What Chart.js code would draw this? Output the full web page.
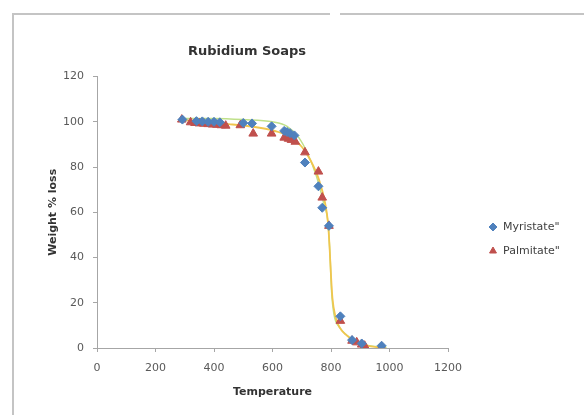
<!DOCTYPE html>
<html>
<head>
<meta charset="utf-8">
<script src="https://cdn.jsdelivr.net/npm/chart.js@4/dist/chart.umd.min.js"></script>
<style>
  body { margin: 0; background: #fff; }
  canvas { display: block; }
</style>
</head>
<body>
<canvas id="grafica" width="584" height="415"></canvas>
<script>
// Datos (temperatura, % de peso)
const tempMiristato = [292, 340, 360, 380, 400, 420, 500, 530, 597, 640, 650, 660, 675, 711, 757, 770, 793, 832, 872, 905, 973];
const pesoMiristato = [101, 100.3, 100.2, 100, 100, 99.8, 99.5, 99.3, 98, 96, 95.5, 95, 94, 82, 71.5, 62, 54, 14, 3.5, 2, 1];

const tempPalmitato = [290, 320, 335, 350, 365, 380, 395, 410, 425, 440, 490, 534, 597, 640, 655, 665, 678, 711, 757, 770, 793, 832, 872, 888, 905, 915, 973];
const pesoPalmitato = [101, 99.8, 99.5, 99.3, 99.2, 99, 98.8, 98.7, 98.5, 98.3, 98.5, 94.8, 94.8, 93, 92.5, 92, 91.2, 86.5, 78, 66.5, 54, 12, 3.2, 2.5, 1.5, 1, 0.5];

// lineas de tendencia (leidas a ojo)
const tempTendAmarilla = [290, 350, 450, 550, 620, 670, 700, 730, 760, 780, 790, 795, 800, 805, 815, 830, 850, 880, 920, 980];
const pesoTendAmarilla = [101, 100, 99, 97.5, 95.5, 92.5, 89, 83, 74, 64, 55, 45, 32, 22, 14, 9, 6, 3, 1.2, 0];
const tempTendVerde = [290, 400, 500, 600, 650, 690, 720, 750, 775, 790, 797, 802, 810, 830, 860, 900, 960, 990];
const pesoTendVerde = [101.5, 101.5, 101, 100, 98, 93, 86, 76, 64, 55, 40, 25, 15, 9, 5, 2, 0.5, 0.3];

const etiquetas = ['Myristate"', 'Palmitate"'];
const tituloGrafica = 'Rubidium Soaps';
const tituloX = 'Temperature';
const tituloY = 'Weight % loss';

const aPuntos = (xs, ys) => xs.map((x, i) => ({ x: x, y: ys[i] }));

const FUENTE = '"DejaVu Sans", sans-serif';

// marco gris de fondo
const marco = {
  id: 'marco',
  beforeDraw(chart) {
    const ctx = chart.ctx;
    ctx.save();
    ctx.fillStyle = '#fff';
    ctx.fillRect(0, 0, chart.width, chart.height);
    ctx.strokeStyle = '#c4c4c4';
    ctx.lineWidth = 2;
    ctx.beginPath();
    ctx.moveTo(13, chart.height);
    ctx.lineTo(13, 14);
    ctx.lineTo(330, 14);
    ctx.moveTo(340, 14);
    ctx.lineTo(chart.width, 14);
    ctx.stroke();
    ctx.restore();
  }
};

// leyenda a la derecha
const leyenda = {
  id: 'leyenda',
  afterDraw(chart) {
    const ctx = chart.ctx;
    ctx.save();
    const series = chart.data.datasets.filter(d => !d.tendencia);
    series.forEach((d, i) => {
      const y = 227 + i * 24;
      ctx.fillStyle = d.backgroundColor;
      ctx.strokeStyle = d.borderColor;
      ctx.lineWidth = 1;
      Chart.helpers.drawPoint(ctx, { pointStyle: d.pointStyle, radius: 4, rotation: 0, borderWidth: 1 }, 493, y);
      ctx.fillStyle = '#404040';
      ctx.font = '11px ' + FUENTE;
      ctx.textBaseline = 'middle';
      ctx.fillText(d.label, 503, y);
    });
    ctx.restore();
  }
};

const ctx = document.getElementById('grafica').getContext('2d');
const myChart = new Chart(ctx, {
  type: 'scatter',
  data: {
    datasets: [
      {
        label: etiquetas[0],
        data: aPuntos(tempMiristato, pesoMiristato),
        pointStyle: 'rectRot',
        pointRadius: 4.5,
        backgroundColor: '#4F81BD',
        borderColor: '#4F81BD',
        order: 0
      },
      {
        label: etiquetas[1],
        data: aPuntos(tempPalmitato, pesoPalmitato),
        pointStyle: 'triangle',
        pointRadius: 5,
        backgroundColor: '#C0504D',
        borderColor: '#C0504D',
        order: 0
      },
      {
        label: 'tend1',
        tendencia: true,
        data: aPuntos(tempTendVerde, pesoTendVerde),
        showLine: true,
        pointRadius: 0,
        borderColor: '#bfe08a',
        borderWidth: 1.5,
        cubicInterpolationMode: 'monotone',
        order: 2
      },
      {
        label: 'tend2',
        tendencia: true,
        data: aPuntos(tempTendAmarilla, pesoTendAmarilla),
        showLine: true,
        pointRadius: 0,
        borderColor: '#f0c64e',
        borderWidth: 1.8,
        cubicInterpolationMode: 'monotone',
        order: 1
      }
    ]
  },
  options: {
    responsive: false,
    animation: false,
    layout: { padding: { left: 46, right: 136, top: 36, bottom: 10 } },
    plugins: {
      legend: { display: false },
      tooltip: { enabled: false },
      title: {
        display: true,
        text: tituloGrafica,
        color: '#333',
        font: { family: FUENTE, size: 13, weight: 'bold' },
        padding: { top: 8, bottom: 17 }
      }
    },
    scales: {
      x: {
        min: 0,
        max: 1200,
        ticks: {
          stepSize: 200,
          color: '#595959',
          font: { family: FUENTE, size: 11 },
          padding: 10,
          maxRotation: 0,
          callback: v => String(v)
        },
        grid: { drawOnChartArea: false, drawTicks: true, tickLength: 4, color: '#a6a6a6' },
        border: { color: '#a6a6a6' },
        title: { display: true, text: tituloX, color: '#333', font: { family: FUENTE, size: 11, weight: 'bold' }, padding: { top: 4, bottom: 6 } },
        afterFit(scale) { scale.height = 57; }
      },
      y: {
        min: 0,
        max: 120,
        ticks: { stepSize: 20, color: '#595959', font: { family: FUENTE, size: 11 }, padding: 9 },
        grid: { drawOnChartArea: false, drawTicks: true, tickLength: 4, color: '#a6a6a6' },
        border: { color: '#a6a6a6' },
        title: { display: true, text: tituloY, color: '#333', font: { family: FUENTE, size: 11, weight: 'bold' }, padding: { top: 1, bottom: 0 } },
        afterFit(scale) { scale.width = 51; }
      }
    }
  },
  plugins: [marco, leyenda]
});
</script>
</body>
</html>
